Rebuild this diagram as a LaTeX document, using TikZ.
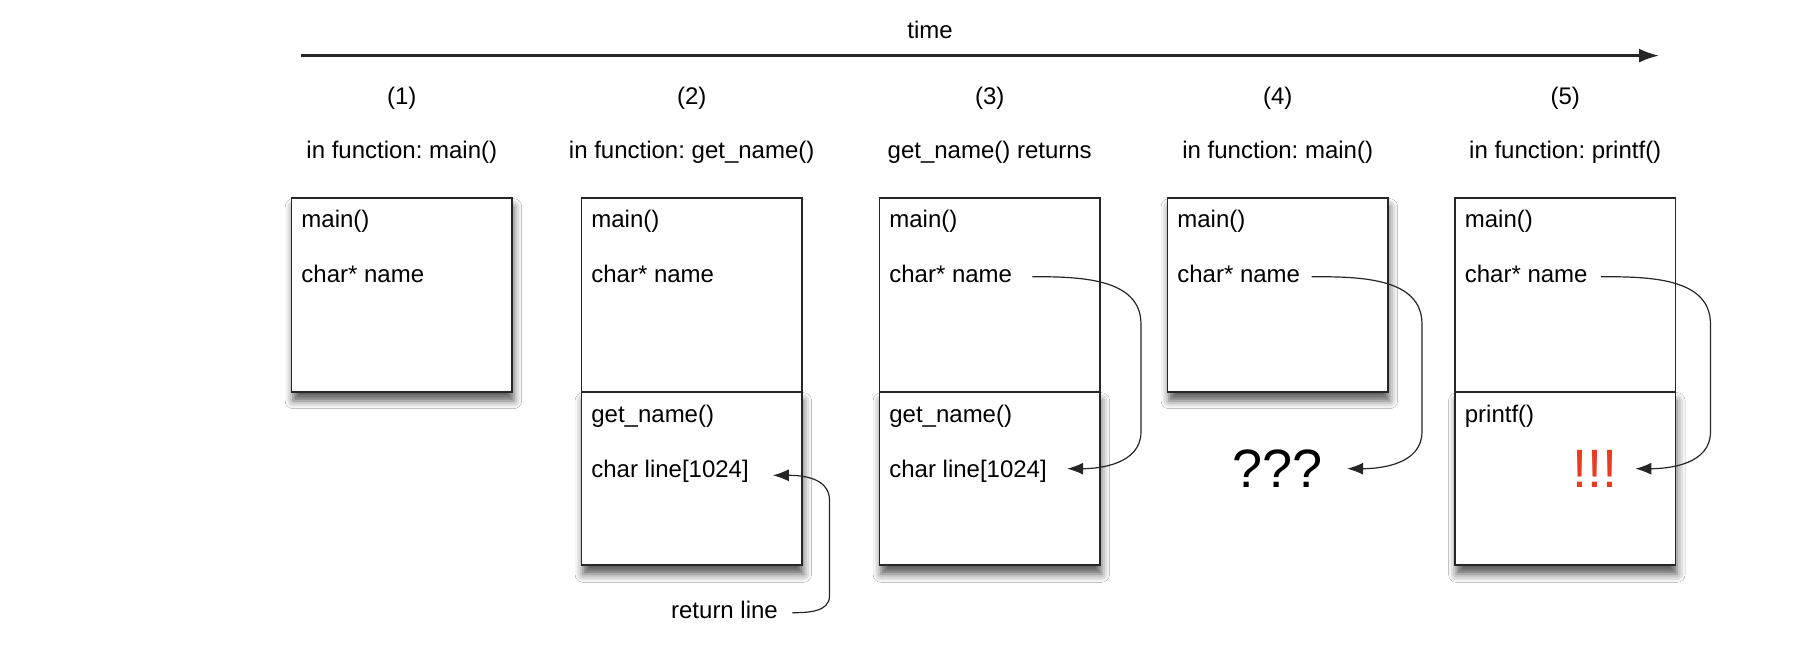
\documentclass[tikz,border=0pt]{standalone}
\usepackage{fontspec}
\setmainfont{Liberation Sans}
\usetikzlibrary{positioning,arrows.meta,shadows.blur}
\frenchspacing
\definecolor{edge}{RGB}{38,38,38}
\definecolor{bang}{RGB}{232,58,36}
\tikzstyle{topframe} = [rectangle,draw=edge,line width=0.85pt,fill=white,minimum width=110.25pt,minimum height=97pt,inner sep=0pt,outer sep=0pt]
\tikzstyle{lowframe} = [topframe,minimum height=86.8pt]
\tikzstyle{shadowed} = [blur shadow={shadow xshift=0.8pt,shadow yshift=-4.5pt,shadow blur radius=4pt,shadow opacity=65}]
\tikzstyle{txt} = [inner sep=0pt,font=\fontsize{12}{14}\selectfont,text height=8.6pt,text depth=2.5pt]
\tikzstyle{big} = [inner sep=0pt,font=\fontsize{27}{30}\selectfont]
\tikzstyle{ptr} = [draw=edge,line width=0.6pt,-{Latex[length=8pt,width=6pt]}]

\begin{document}
\begin{tikzpicture}[x=1pt,y=1pt]
    \path[use as bounding box,fill=white] (0,0) rectangle (901,322);

    % time axis
    \coordinate (tstart) at (150.5,294.2);
    \coordinate (tend) at (829.5,294.2);
    \draw[edge,line width=1.15pt,-{Latex[length=10pt,width=7pt]}] (tstart) -- (tend);
    \node[txt] (time) at (465,306) {time};

    % (1) in main()
    \node[topframe,shadowed] (main1) at (200.9,174.65) {};
    \node[txt,above=16.8pt of main1] (head1) {in function: main()};
    \node[txt,above=15.4pt of head1] (step1) {(1)};
    \node[txt,anchor=west] (fn1) at ([xshift=4.75pt,yshift=-12pt]main1.north west) {main()};
    \node[txt,anchor=west] (var1) at ([xshift=4.75pt,yshift=-39.5pt]main1.north west) {char* name};

    % (2) in get_name()
    \node[topframe,right=34.7pt of main1] (main2) {};
    \node[lowframe,shadowed,below=0pt of main2] (low2) {};
    \node[txt,above=16.8pt of main2] (head2) {in function: get\_name()};
    \node[txt,above=15.4pt of head2] (step2) {(2)};
    \node[txt,anchor=west] (fn2) at ([xshift=4.75pt,yshift=-12pt]main2.north west) {main()};
    \node[txt,anchor=west] (var2) at ([xshift=4.75pt,yshift=-39.5pt]main2.north west) {char* name};
    \node[txt,anchor=west] (sub2) at ([xshift=4.75pt,yshift=-12.15pt]low2.north west) {get\_name()};
    \node[txt,anchor=west] (line2) at ([xshift=4.75pt,yshift=-40pt]low2.north west) {char line[1024]};
    \node[txt] (ret) at ([xshift=16.4pt,yshift=-23.7pt]low2.south) {return line};

    % (3) get_name() returns
    \node[topframe,right=38.75pt of main2] (main3) {};
    \node[lowframe,shadowed,below=0pt of main3] (low3) {};
    \node[txt,above=16.8pt of main3] (head3) {get\_name() returns};
    \node[txt,above=15.4pt of head3] (step3) {(3)};
    \node[txt,anchor=west] (fn3) at ([xshift=4.75pt,yshift=-12pt]main3.north west) {main()};
    \node[txt,anchor=west] (var3) at ([xshift=4.75pt,yshift=-39.5pt]main3.north west) {char* name};
    \node[txt,anchor=west] (sub3) at ([xshift=4.75pt,yshift=-12.15pt]low3.north west) {get\_name()};
    \node[txt,anchor=west] (line3) at ([xshift=4.75pt,yshift=-40pt]low3.north west) {char line[1024]};

    % (4) back in main()
    \node[topframe,shadowed,right=33.75pt of main3] (main4) {};
    \node[txt,above=16.8pt of main4] (head4) {in function: main()};
    \node[txt,above=15.4pt of head4] (step4) {(4)};
    \node[txt,anchor=west] (fn4) at ([xshift=4.75pt,yshift=-12pt]main4.north west) {main()};
    \node[txt,anchor=west] (var4) at ([xshift=4.75pt,yshift=-39.5pt]main4.north west) {char* name};
    \node[big] (qq) at ([yshift=-38.5pt]main4.south) {???};

    % (5) in printf()
    \node[topframe,right=33.5pt of main4] (main5) {};
    \node[lowframe,shadowed,below=0pt of main5] (low5) {};
    \node[txt,above=16.8pt of main5] (head5) {in function: printf()};
    \node[txt,above=15.4pt of head5] (step5) {(5)};
    \node[txt,anchor=west] (fn5) at ([xshift=4.75pt,yshift=-12pt]main5.north west) {main()};
    \node[txt,anchor=west] (var5) at ([xshift=4.75pt,yshift=-39.5pt]main5.north west) {char* name};
    \node[txt,anchor=west] (sub5) at ([xshift=4.75pt,yshift=-12.15pt]low5.north west) {printf()};
    \node[big,text=bang] (bangs) at ([xshift=14.7pt,yshift=4.9pt]low5.center) {!!!};

    % pointers
    \coordinate (rs) at ([xshift=7pt]ret.east);
    \coordinate (r2a) at ([xshift=13.75pt,yshift=-58.75pt]low2.east);
    \coordinate (r2b) at ([xshift=13.75pt,yshift=-10.75pt]low2.east);
    \coordinate (t2) at ([xshift=11.8pt,yshift=-1.8pt]line2.east);
    \draw[ptr] (rs) to[out=0,in=-90] (r2a) -- (r2b) to[out=90,in=0] (t2);

    \coordinate (s3) at ([xshift=10pt]var3.east);
    \coordinate (b3a) at ([xshift=20.5pt,yshift=-14.65pt]main3.east);
    \coordinate (b3b) at ([xshift=20.5pt,yshift=-68.65pt]main3.east);
    \coordinate (t3) at ([xshift=10pt,yshift=1.5pt]line3.east);
    \draw[ptr] (s3) to[out=0,in=90] (b3a) -- (b3b) to[out=-90,in=0] (t3);

    \coordinate (s4) at ([xshift=5.6pt]var4.east);
    \coordinate (b4a) at ([xshift=17pt,yshift=-14.65pt]main4.east);
    \coordinate (b4b) at ([xshift=17pt,yshift=-68.65pt]main4.east);
    \coordinate (t4) at ([xshift=12pt]qq.east);
    \draw[ptr] (s4) to[out=0,in=90] (b4a) -- (b4b) to[out=-90,in=0] (t4);

    \coordinate (s5) at ([xshift=6.4pt]var5.east);
    \coordinate (b5a) at ([xshift=17.5pt,yshift=-14.65pt]main5.east);
    \coordinate (b5b) at ([xshift=17.5pt,yshift=-68.65pt]main5.east);
    \coordinate (t5) at ([xshift=8.9pt]bangs.east);
    \draw[ptr] (s5) to[out=0,in=90] (b5a) -- (b5b) to[out=-90,in=0] (t5);
\end{tikzpicture}
\end{document}
